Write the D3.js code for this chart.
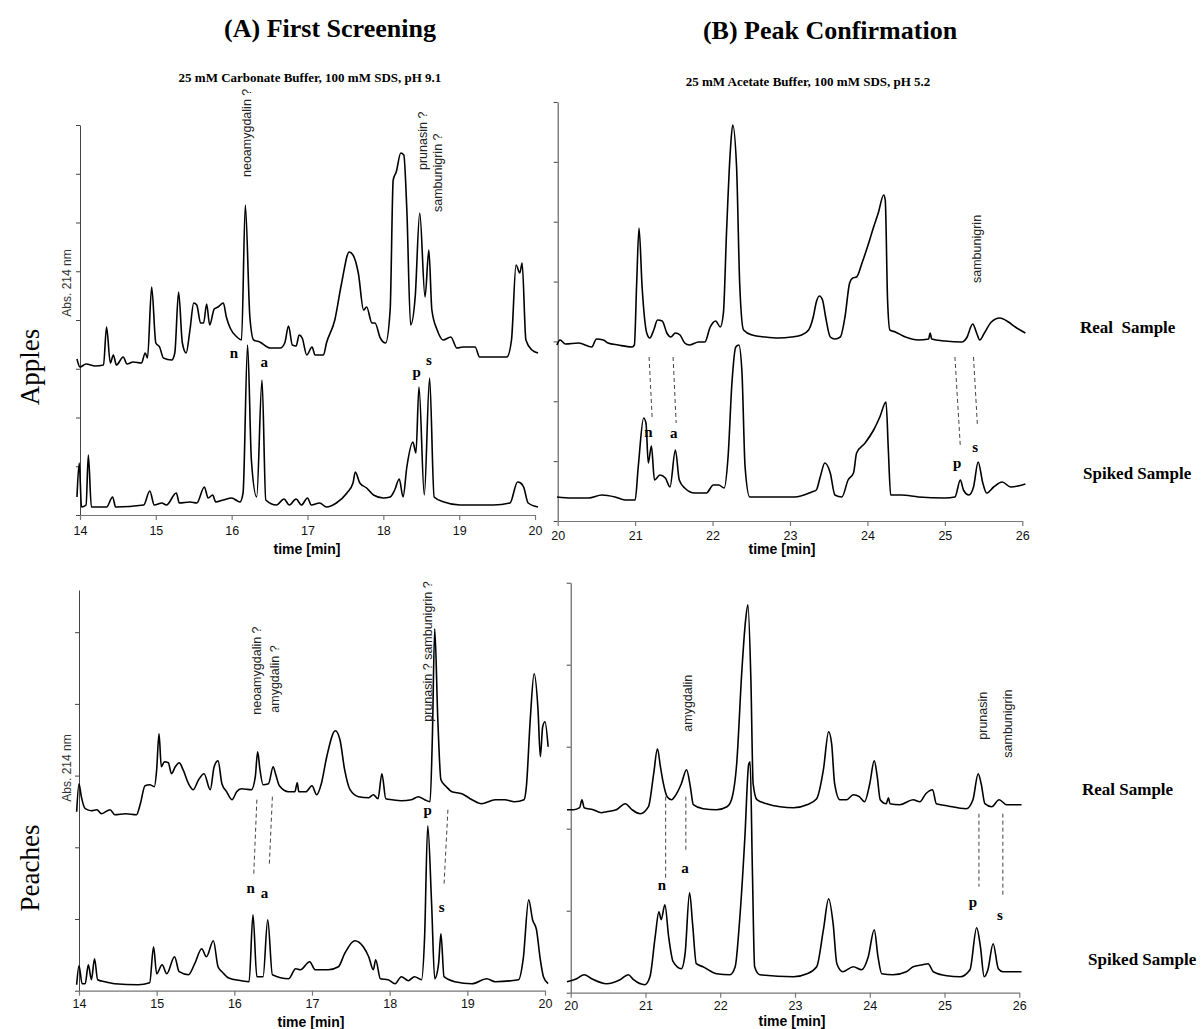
<!DOCTYPE html>
<html>
<head>
<meta charset="utf-8">
<script src="https://cdn.jsdelivr.net/npm/d3@7"></script>
<style>
  body { margin: 0; background: #fff; }
  svg { display: block; }
</style>
</head>
<body>
<svg id="chart" width="1202" height="1029"></svg>
<script>
// time axis ticks
const screenTicks = [14, 15, 16, 17, 18, 19, 20];
const confirmTicks = [20, 21, 22, 23, 24, 25, 26];

// electropherograms: [time (min), absorbance (arb. units)]
const applesScreenReal = [
  [13.96,156],[14.00,148],[14.08,151],[14.20,149],[14.31,150],[14.35,188],[14.40,152],[14.44,160],[14.48,150],
  [14.57,158],[14.62,151],[14.70,153],[14.81,152],[14.86,162],[14.89,157],[14.945,228],[15.00,172],[15.05,168],
  [15.10,157],[15.21,155],[15.25,162],[15.30,223],[15.35,172],[15.40,162],[15.45,185],[15.50,212],[15.54,210],
  [15.59,192],[15.63,192],[15.67,211],[15.71,190],[15.77,206],[15.82,208],[15.89,212],[15.93,198],[15.98,187],
  [16.07,178],[16.13,175],[16.18,310],[16.24,198],[16.29,175],[16.37,173],[16.51,167],[16.64,167],[16.70,172],
  [16.75,189],[16.80,170],[16.85,169],[16.89,180],[16.93,177],[16.99,160],[17.06,168],[17.10,160],[17.21,160],
  [17.25,172],[17.36,195],[17.45,232],[17.55,263],[17.60,260],[17.67,242],[17.74,205],[17.78,208],[17.85,192],
  [17.89,192],[17.96,177],[18.03,172],[18.09,205],[18.13,335],[18.17,343],[18.23,362],[18.27,360],[18.31,305],
  [18.36,190],[18.42,218],[18.48,302],[18.55,218],[18.60,265],[18.64,205],[18.71,185],[18.79,175],[18.89,178],
  [18.97,167],[19.05,168],[19.21,168],[19.27,158],[19.45,158],[19.63,158],[19.69,175],[19.75,250],[19.80,242],
  [19.83,252],[19.88,175],[19.96,165],[20.04,162]
];
const applesScreenSpiked = [
  [13.96,18],[13.99,52],[14.02,8],[14.08,10],[14.11,60],[14.15,8],[14.35,8],[14.43,18],[14.47,8],[14.84,10],
  [14.92,24],[14.98,10],[15.08,12],[15.14,10],[15.27,22],[15.31,12],[15.45,13],[15.54,12],[15.64,28],[15.69,17],
  [15.75,20],[15.79,13],[15.89,15],[16.00,17],[16.11,13],[16.15,22],[16.21,170],[16.26,55],[16.33,18],[16.40,135],
  [16.45,15],[16.59,10],[16.69,16],[16.76,10],[16.85,16],[16.92,10],[17.00,17],[17.05,10],[17.16,12],[17.25,8],
  [17.38,12],[17.52,22],[17.60,32],[17.63,43],[17.69,32],[17.78,27],[17.87,20],[18.00,17],[18.09,18],[18.15,25],
  [18.21,36],[18.26,18],[18.31,48],[18.39,73],[18.43,62],[18.47,128],[18.54,20],[18.61,137],[18.67,18],[18.80,13],
  [19.01,10],[19.45,10],[19.67,12],[19.77,33],[19.81,32],[19.85,28],[19.91,12],[20.04,8]
];
const applesConfirmReal = [
  [19.99,176],[20.03,181],[20.10,177],[20.27,178],[20.44,174],[20.50,182],[20.59,181],[20.65,178],[20.78,176],
  [20.96,174],[20.99,176],[21.02,238],[21.05,293],[21.09,234],[21.15,188],[21.19,183],[21.24,191],[21.29,201],
  [21.35,200],[21.41,188],[21.46,184],[21.52,188],[21.58,186],[21.64,178],[21.70,176],[21.82,179],[21.90,179],
  [21.97,194],[22.04,200],[22.10,194],[22.14,208],[22.18,288],[22.23,371],[22.26,396],[22.31,354],[22.35,238],
  [22.40,191],[22.51,186],[22.68,184],[22.85,183],[23.02,184],[23.15,186],[23.24,191],[23.30,204],[23.34,219],
  [23.38,225],[23.42,221],[23.46,204],[23.52,184],[23.58,182],[23.65,184],[23.71,204],[23.77,238],[23.81,243],
  [23.86,244],[23.93,258],[24.00,274],[24.08,294],[24.14,308],[24.21,326],[24.23,321],[24.26,221],[24.29,191],
  [24.36,189],[24.49,184],[24.66,181],[24.79,182],[24.81,188],[24.83,182],[25.00,180],[25.22,179],[25.28,183],
  [25.36,197],[25.41,188],[25.45,181],[25.51,188],[25.60,199],[25.71,203],[25.82,199],[25.91,194],[26.04,188]
];
const applesConfirmSpiked = [
  [19.99,24],[20.18,23],[20.40,23],[20.57,26],[20.74,24],[20.87,21],[21.00,21],[21.04,54],[21.11,103],[21.14,98],
  [21.17,58],[21.21,75],[21.25,41],[21.32,46],[21.39,43],[21.45,34],[21.52,71],[21.57,41],[21.64,33],[21.77,28],
  [21.92,28],[22.01,36],[22.08,36],[22.15,33],[22.20,64],[22.25,138],[22.30,174],[22.34,176],[22.38,148],[22.42,54],
  [22.48,24],[22.68,24],[22.85,24],[23.06,24],[23.28,29],[23.34,31],[23.39,44],[23.45,58],[23.52,48],[23.58,26],
  [23.67,24],[23.75,41],[23.82,48],[23.86,68],[23.97,78],[24.08,91],[24.16,104],[24.24,119],[24.27,71],[24.30,26],
  [24.44,26],[24.66,24],[25.00,23],[25.13,24],[25.20,41],[25.24,31],[25.31,26],[25.37,34],[25.43,59],[25.49,38],
  [25.54,28],[25.63,34],[25.74,39],[25.85,34],[26.04,37]
];
const peachesScreenReal = [
  [13.97,179],[14.00,207],[14.03,194],[14.08,182],[14.16,180],[14.23,181],[14.29,177],[14.40,181],[14.46,176],
  [14.60,177],[14.74,176],[14.79,187],[14.85,205],[14.91,206],[14.97,204],[15.00,221],[15.03,257],[15.06,224],
  [15.10,229],[15.15,228],[15.19,217],[15.24,224],[15.29,228],[15.34,221],[15.41,207],[15.47,201],[15.54,211],
  [15.61,217],[15.69,201],[15.74,224],[15.79,230],[15.84,207],[15.90,199],[15.97,191],[16.03,199],[16.09,202],
  [16.22,201],[16.27,214],[16.30,239],[16.33,221],[16.37,206],[16.44,207],[16.50,224],[16.53,217],[16.58,205],
  [16.70,199],[16.78,199],[16.81,208],[16.83,199],[16.92,199],[17.00,205],[17.06,196],[17.12,207],[17.19,234],
  [17.30,260],[17.36,251],[17.42,221],[17.49,201],[17.60,194],[17.73,193],[17.79,196],[17.85,192],[17.90,217],
  [17.95,192],[18.03,191],[18.15,190],[18.28,191],[18.37,194],[18.45,191],[18.52,189],[18.55,254],[18.58,362],
  [18.62,271],[18.66,211],[18.73,204],[18.80,199],[18.93,197],[19.06,191],[19.18,187],[19.36,191],[19.48,191],
  [19.61,189],[19.73,191],[19.76,204],[19.81,271],[19.86,317],[19.91,281],[19.94,234],[19.97,264],[20.00,269],
  [20.04,244]
];
const peachesScreenSpiked = [
  [13.97,6],[14.00,25],[14.04,7],[14.08,7],[14.12,26],[14.16,11],[14.20,32],[14.24,11],[14.33,9],[14.46,7],
  [14.76,6],[14.91,8],[14.96,44],[15.00,17],[15.07,26],[15.13,17],[15.23,34],[15.29,19],[15.41,16],[15.49,27],
  [15.58,42],[15.64,34],[15.73,50],[15.79,24],[15.84,19],[15.92,13],[16.09,10],[16.19,9],[16.24,76],[16.29,14],
  [16.37,14],[16.43,71],[16.49,16],[16.70,12],[16.79,22],[16.85,21],[16.97,29],[17.04,21],[17.21,21],[17.34,24],
  [17.42,37],[17.55,50],[17.66,44],[17.73,34],[17.79,21],[17.82,31],[17.88,12],[17.98,11],[18.07,7],[18.15,14],
  [18.24,10],[18.32,14],[18.41,11],[18.45,54],[18.49,165],[18.54,87],[18.58,12],[18.63,27],[18.66,57],[18.70,14],
  [18.84,9],[19.06,7],[19.25,12],[19.36,9],[19.66,11],[19.72,32],[19.79,91],[19.84,71],[19.89,61],[19.94,31],
  [19.98,14],[20.04,7]
];
const peachesConfirmReal = [
  [19.95,183],[20.04,183],[20.12,185],[20.15,193],[20.18,185],[20.30,183],[20.41,180],[20.48,181],[20.61,183],
  [20.73,189],[20.82,183],[20.93,179],[21.04,186],[21.11,219],[21.16,244],[21.20,226],[21.24,209],[21.29,196],
  [21.35,193],[21.39,196],[21.48,209],[21.55,223],[21.60,206],[21.64,188],[21.77,184],[21.95,183],[22.09,186],
  [22.15,193],[22.22,229],[22.29,323],[22.34,373],[22.37,388],[22.41,313],[22.44,209],[22.49,193],[22.62,189],
  [22.80,186],[22.98,185],[23.16,188],[23.29,194],[23.38,223],[23.45,261],[23.49,249],[23.53,209],[23.60,193],
  [23.69,193],[23.78,198],[23.86,196],[23.93,191],[24.00,209],[24.06,232],[24.10,216],[24.14,193],[24.22,189],
  [24.25,195],[24.27,189],[24.40,188],[24.58,193],[24.67,191],[24.75,199],[24.84,203],[24.89,189],[25.03,187],
  [25.29,184],[25.38,193],[25.45,219],[25.49,209],[25.54,189],[25.63,186],[25.73,193],[25.83,188],[26.03,188]
];
const peachesConfirmSpiked = [
  [19.95,11],[20.08,14],[20.18,18],[20.28,14],[20.48,9],[20.66,13],[20.77,18],[20.84,13],[20.99,8],[21.06,16],
  [21.13,56],[21.18,81],[21.21,73],[21.26,88],[21.31,56],[21.37,31],[21.48,24],[21.53,39],[21.59,100],[21.63,69],
  [21.68,29],[21.77,26],[21.95,19],[22.13,18],[22.20,26],[22.26,73],[22.33,156],[22.38,228],[22.40,231],[22.43,123],
  [22.46,26],[22.53,18],[22.98,16],[23.16,19],[23.29,26],[23.38,63],[23.45,94],[23.51,69],[23.56,29],[23.64,21],
  [23.78,26],[23.89,23],[23.98,36],[24.06,63],[24.11,36],[24.16,19],[24.31,18],[24.49,21],[24.58,26],[24.71,28],
  [24.78,29],[24.85,21],[25.03,17],[25.21,16],[25.34,23],[25.43,65],[25.48,46],[25.53,16],[25.58,23],[25.65,49],
  [25.72,24],[25.78,21],[26.03,21]
];

// peak assignments: [text, time, height]
const applesScreenNames = [["neoamygdalin ?",16.20,338],["prunasin ?",18.52,345],["sambunigrin ?",18.72,303]];
const applesConfirmNames = [["sambunigrin",25.42,238]];
const peachesScreenNames = [["neoamygdalin ?",16.29,276],["amygdalin ?",16.52,278],["prunasin ? sambunigrin ?",18.49,269]];
const peachesConfirmNames = [["amygdalin",21.57,261],["prunasin",25.51,253],["sambunigrin",25.85,235]];

const applesScreenLetters = [["n",16.03,162],["a",16.43,153],["p",18.44,143],["s",18.60,155]];
const applesConfirmLetters = [["n",21.17,89],["a",21.50,88],["p",25.16,58],["s",25.39,74]];
const peachesScreenLetters = [["n",16.21,103],["a",16.39,98],["p",18.49,181],["s",18.67,84]];
const peachesConfirmLetters = [["n",21.22,108],["a",21.53,125],["p",25.38,91],["s",25.74,78]];

// dashed connectors: [t1, v1, t2, v2]
const applesConfirmLinks = [[21.18,164,21.22,103],[21.49,164,21.53,98],[25.13,164,25.20,74],[25.37,164,25.42,96]];
const peachesScreenLinks = [[16.29,191,16.25,116],[16.49,194,16.45,125],[18.75,181,18.70,106]];
const peachesConfirmLinks = [[21.27,196,21.27,114],[21.54,196,21.54,141],[25.46,179,25.46,106],[25.78,179,25.78,96]];

const serif = "'Liberation Serif', 'Times New Roman', serif";
const sans = "'Liberation Sans', Arial, sans-serif";

const panels = [
  { ticks: screenTicks, left: 80, right: 535, bottom: 515, top: 125, vmax: 390, step: 48.75, nTicks: 8,
    real: applesScreenReal, spiked: applesScreenSpiked, names: applesScreenNames, letters: applesScreenLetters,
    links: [], absLabel: [67, 283], timeLabel: [307, 554], pad: 6 },
  { ticks: confirmTicks, left: 557.7, right: 1022.3, bottom: 521, top: 102, vmax: 419, step: 59.86, nTicks: 7,
    real: applesConfirmReal, spiked: applesConfirmSpiked, names: applesConfirmNames, letters: applesConfirmLetters,
    links: applesConfirmLinks, absLabel: null, timeLabel: [782, 554], pad: 5 },
  { ticks: screenTicks, left: 79, right: 545, bottom: 990.7, top: 590, vmax: 400.7, step: 71.7, nTicks: 5,
    real: peachesScreenReal, spiked: peachesScreenSpiked, names: peachesScreenNames, letters: peachesScreenLetters,
    links: peachesScreenLinks, absLabel: [67, 768], timeLabel: [311, 1027], pad: 3 },
  { ticks: confirmTicks, left: 570.7, right: 1019.3, bottom: 992.7, top: 582.7, vmax: 410, step: 82, nTicks: 5,
    real: peachesConfirmReal, spiked: peachesConfirmSpiked, names: peachesConfirmNames, letters: peachesConfirmLetters,
    links: peachesConfirmLinks, absLabel: null, timeLabel: [792, 1026], pad: 3 }
];

const svg = d3.select("#chart");

panels.forEach(p => {
  const x = d3.scaleLinear().domain([p.ticks[0], p.ticks[p.ticks.length - 1]]).range([p.left, p.right]);
  const y = d3.scaleLinear().domain([0, p.vmax]).range([p.bottom, p.top]);
  const g = svg.append("g");

  // y axis (unlabelled ticks)
  const yAxis = g.append("g")
    .attr("transform", `translate(${p.left},0)`)
    .call(d3.axisLeft(y)
      .tickValues(d3.range(0, p.nTicks + 1).map(i => i * p.step))
      .tickSize(4).tickSizeOuter(0).tickFormat(""));
  yAxis.selectAll("path, line").attr("stroke", "#444").attr("stroke-width", 1);

  // x axis
  const xAxis = g.append("g")
    .attr("transform", `translate(0,${p.bottom})`)
    .call(d3.axisBottom(x).tickValues(p.ticks).tickFormat(d3.format("d"))
      .tickSize(5).tickSizeOuter(0).tickPadding(p.pad));
  xAxis.selectAll("path, line").attr("stroke", "#777").attr("stroke-width", 1.2);
  xAxis.selectAll("text").attr("font-family", sans).attr("font-size", 12.5).attr("fill", "#111");

  g.append("text")
    .attr("x", p.timeLabel[0]).attr("y", p.timeLabel[1])
    .attr("text-anchor", "middle")
    .attr("font-family", sans).attr("font-weight", "bold").attr("font-size", 14)
    .text("time [min]");

  if (p.absLabel) {
    g.append("text")
      .attr("transform", `translate(${p.absLabel[0]},${p.absLabel[1]}) rotate(-90)`)
      .attr("text-anchor", "middle").attr("dominant-baseline", "central")
      .attr("font-family", sans).attr("font-size", 12).attr("fill", "#333")
      .text("Abs. 214 nm");
  }

  // traces
  const line = d3.line().x(d => x(d[0])).y(d => y(d[1])).curve(d3.curveMonotoneX);
  [p.real, p.spiked].forEach(series => {
    g.append("path")
      .datum(series)
      .attr("d", line)
      .attr("fill", "none")
      .attr("stroke", "#000")
      .attr("stroke-width", 1.6)
      .attr("stroke-linejoin", "round");
  });

  // dashed connectors
  g.selectAll(".link")
    .data(p.links)
    .join("line")
    .attr("x1", d => x(d[0])).attr("y1", d => y(d[1]))
    .attr("x2", d => x(d[2])).attr("y2", d => y(d[3]))
    .attr("stroke", "#444").attr("stroke-width", 1).attr("stroke-dasharray", "4,3");

  // compound names, rotated
  g.selectAll(".name")
    .data(p.names)
    .join("text")
    .attr("transform", d => `translate(${x(d[1])},${y(d[2])}) rotate(-90)`)
    .attr("dominant-baseline", "central")
    .attr("font-family", sans).attr("font-size", 12.5).attr("fill", "#222")
    .text(d => d[0]);

  // peak letters
  g.selectAll(".letter")
    .data(p.letters)
    .join("text")
    .attr("x", d => x(d[1])).attr("y", d => y(d[2]))
    .attr("text-anchor", "middle").attr("dominant-baseline", "central")
    .attr("font-family", serif).attr("font-weight", "bold").attr("font-size", 15)
    .text(d => d[0]);
});

// titles
svg.append("text").attr("x", 330).attr("y", 37).attr("text-anchor", "middle")
  .attr("font-family", serif).attr("font-weight", "bold").attr("font-size", 26)
  .text("(A) First Screening");
svg.append("text").attr("x", 830).attr("y", 39).attr("text-anchor", "middle")
  .attr("font-family", serif).attr("font-weight", "bold").attr("font-size", 26)
  .text("(B) Peak Confirmation");
svg.append("text").attr("x", 310).attr("y", 82).attr("text-anchor", "middle")
  .attr("font-family", serif).attr("font-weight", "bold").attr("font-size", 13)
  .text("25 mM Carbonate Buffer, 100 mM SDS, pH 9.1");
svg.append("text").attr("x", 808).attr("y", 86).attr("text-anchor", "middle")
  .attr("font-family", serif).attr("font-weight", "bold").attr("font-size", 13)
  .text("25 mM Acetate Buffer, 100 mM SDS, pH 5.2");

// row labels
[["Apples", 30, 367], ["Peaches", 30, 868]].forEach(d => {
  svg.append("text")
    .attr("transform", `translate(${d[1]},${d[2]}) rotate(-90)`)
    .attr("text-anchor", "middle").attr("dominant-baseline", "central")
    .attr("font-family", serif).attr("font-size", 27)
    .text(d[0]);
});

// sample labels
[["Real  Sample", 1080, 333], ["Spiked Sample", 1083, 479],
 ["Real Sample", 1082, 795], ["Spiked Sample", 1088, 965]].forEach(d => {
  svg.append("text")
    .attr("x", d[1]).attr("y", d[2])
    .attr("font-family", serif).attr("font-weight", "bold").attr("font-size", 17)
    .attr("xml:space", "preserve").style("white-space", "pre")
    .text(d[0]);
});
</script>
</body>
</html>
